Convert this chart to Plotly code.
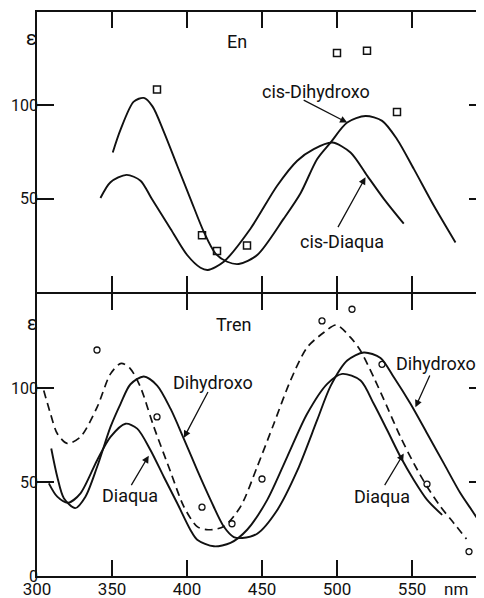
import plotly.graph_objects as go

# ---------------- data ----------------
# Top panel (En)
en_dihydroxo_nm = [350.5, 355.7, 364.5, 371.2, 377, 384.5, 393.5, 402.3, 411.2, 419, 426.8, 434.5,
                   446.8, 464.5, 475.7, 486.8, 495.7, 506.8, 519, 530.1, 540, 551.2, 564.5, 579]
en_dihydroxo_eps = [74.8, 87, 102, 104, 99.5, 86, 67.7, 50, 32.3, 20.7, 16.3, 15.1,
                    19.9, 39.4, 53, 71.3, 80.1, 90.8, 94.3, 91.7, 81.9, 66, 46.4, 26.6]

en_diaqua_nm = [342.3, 349, 359.7, 369, 376.5, 389, 400.1, 409, 413.9, 424.5, 442.3, 460.1,
                473.5, 484.5, 496.8, 509, 520.1, 531.2, 544.5]
en_diaqua_eps = [50.4, 58.9, 62.8, 59.7, 50, 34, 19.9, 13.1, 11.9, 16.3, 34, 57,
                 70.4, 76.6, 80.1, 74.8, 62.4, 50, 36.7]

en_points_nm = [380, 410, 420, 440, 500, 520, 540]
en_points_eps = [108.5, 30.5, 22, 25, 128, 129.3, 96.4]

# Bottom panel (Tren)
tren_dihydroxo_nm = [309.5, 313.5, 317.9, 325.5, 332.3, 340.1, 349, 355.7, 362.3, 371.2, 380.1, 389,
                     397.9, 406.8, 415.7, 424.5, 431.2, 436.8, 446.8, 460.1, 473.5, 486.8, 495.7,
                     506.8, 517.9, 529, 537.9, 549, 560.1, 571.2, 582.3, 591.2, 598.3]
tren_dihydroxo_eps = [67.8, 52.8, 41.4, 36.1, 42.2, 58.1, 79.3, 91.6, 102, 106.1, 101.3, 89,
                      73, 56.3, 40.5, 26.3, 20.7, 20.2, 22.5, 35, 56, 83, 101,
                      114.6, 118.9, 116, 105.7, 91.6, 75.8, 59.9, 44, 33.4, 24.6]

tren_diaqua_nm = [307.9, 313.5, 320.8, 329, 340.1, 349, 359, 366.8, 375.7, 384.5, 393.5, 402.3,
                  406.8, 417.9, 429, 440.1, 453.5, 466.8, 480.1, 493.5, 503.5, 515.7, 524.5,
                  533.5, 542.3, 551.2, 560.1, 570.1]
tren_diaqua_eps = [49.3, 42.2, 39, 44, 61.6, 74, 81, 78.4, 66.9, 52.8, 38.7, 24.5,
                   19.3, 15.8, 17.6, 24.6, 40.5, 63.4, 86.3, 102.2, 107.5, 104, 91.6,
                   77.5, 63.4, 51.1, 40.5, 32.5]

tren_dashed_nm = [304.5, 309, 313.5, 320.1, 329, 340.1, 349, 356.1, 362.3, 369, 377.9, 389,
                  397.9, 406.8, 414, 424.5, 435.7, 446.8, 457.9, 469, 480.1, 491.2, 499.5,
                  509, 515.7, 524.5, 533.5, 542.3, 551.2, 560.1, 569, 577.9, 586.3]
tren_dashed_eps = [98.7, 86.3, 75.8, 70.5, 74, 89.8, 107.5, 113.1, 110.2, 100.4, 79.3, 55.5,
                   36.9, 26.3, 24.6, 26.3, 36.9, 58.1, 81, 104, 121.6, 129.5, 133.5,
                   126.9, 119.8, 105.7, 89.8, 74, 59.9, 47.5, 36.9, 28.1, 19.7]

tren_points_nm = [340, 380, 410, 430, 450, 490, 510, 530, 560, 588]
tren_points_eps = [120.2, 84.6, 36.6, 27.8, 51.6, 135.7, 141.9, 112.6, 48.9, 13]

x_ticks = [300, 350, 400, 450, 500, 550]
x_ticktext = ["300", "350", "400", "450", "500", "550"]
y_ticks_bottom = [0, 50, 100]
y_ticks_top = [50, 100]

# ---------------- figure ----------------
FONT = "Roboto, 'DejaVu Sans', sans-serif"
BLACK = "#111111"
fig = go.Figure()

line_solid = dict(color=BLACK, width=1.9, shape="spline", smoothing=0.8)

fig.add_trace(go.Scatter(x=en_dihydroxo_nm, y=en_dihydroxo_eps, mode="lines", line=line_solid,
                         xaxis="x2", yaxis="y2", name="cis-Dihydroxo"))
fig.add_trace(go.Scatter(x=en_diaqua_nm, y=en_diaqua_eps, mode="lines", line=line_solid,
                         xaxis="x2", yaxis="y2", name="cis-Diaqua"))
fig.add_trace(go.Scatter(x=en_points_nm, y=en_points_eps, mode="markers",
                         marker=dict(symbol="square-open", size=7, color=BLACK, line=dict(width=1.5)),
                         xaxis="x2", yaxis="y2", name="En points"))

fig.add_trace(go.Scatter(x=tren_dashed_nm, y=tren_dashed_eps, mode="lines",
                         line=dict(color=BLACK, width=1.7, dash="8px,5px", shape="spline", smoothing=0.8),
                         xaxis="x", yaxis="y", name="dashed"))
fig.add_trace(go.Scatter(x=tren_dihydroxo_nm, y=tren_dihydroxo_eps, mode="lines", line=line_solid,
                         xaxis="x", yaxis="y", name="Dihydroxo"))
fig.add_trace(go.Scatter(x=tren_diaqua_nm, y=tren_diaqua_eps, mode="lines", line=line_solid,
                         xaxis="x", yaxis="y", name="Diaqua"))
fig.add_trace(go.Scatter(x=tren_points_nm, y=tren_points_eps, mode="markers",
                         marker=dict(symbol="circle-open", size=6, color=BLACK, line=dict(width=1.3)),
                         xaxis="x", yaxis="y", name="Tren points"))

# dummy traces for right-side tick axes
fig.add_trace(go.Scatter(x=[None], y=[None], xaxis="x", yaxis="y3", showlegend=False))
fig.add_trace(go.Scatter(x=[None], y=[None], xaxis="x2", yaxis="y4", showlegend=False))

axis_common = dict(showgrid=False, zeroline=False, showline=True, linecolor=BLACK, linewidth=1.8,
                   ticks="inside", tickcolor=BLACK, tickwidth=1.6)

# the page body has an 8px margin, so the figure is sized 8px smaller than the window
fig.update_layout(
    width=476, height=590,
    margin=dict(l=29, r=0, t=4, b=22),
    paper_bgcolor="white", plot_bgcolor="white",
    showlegend=False,
    font=dict(family=FONT, color=BLACK),
    xaxis=dict(domain=[0, 1], anchor="y", range=[300, 598], tickvals=x_ticks, ticktext=x_ticktext,
               ticklen=16, mirror="ticks", ticklabelstandoff=-3,
               tickfont=dict(family=FONT, size=17, color=BLACK), **axis_common),
    xaxis2=dict(domain=[0, 1], anchor="y2", range=[300, 598], matches="x", tickvals=x_ticks,
                showticklabels=False, ticklen=16, mirror="ticks", **axis_common),
    yaxis=dict(domain=[0, 0.5], anchor="x", range=[0, 150], tickvals=y_ticks_bottom, ticklen=17,
               ticklabelstandoff=-6, tickfont=dict(family=FONT, size=16, color=BLACK), **axis_common),
    yaxis2=dict(domain=[0.5032, 1], anchor="x2", range=[0, 150], tickvals=y_ticks_top, ticklen=17,
                ticklabelstandoff=-6, tickfont=dict(family=FONT, size=16, color=BLACK), **axis_common),
    yaxis3=dict(overlaying="y", side="right", anchor="x", range=[0, 150], tickvals=[50, 100],
                ticks="inside", ticklen=15, tickwidth=1.6, tickcolor=BLACK, showline=False,
                showticklabels=False, showgrid=False, zeroline=False),
    yaxis4=dict(overlaying="y2", side="right", anchor="x2", range=[0, 150], tickvals=[50, 100],
                ticks="inside", ticklen=15, tickwidth=1.6, tickcolor=BLACK, showline=False,
                showticklabels=False, showgrid=False, zeroline=False),
)

ann = []
def text(x, y, s, xref, yref, size=18, **kw):
    ann.append(dict(x=x, y=y, xref=xref, yref=yref, text=s, showarrow=False,
                    font=dict(family=FONT, size=size, color=BLACK), **kw))

def arrow(x, y, ax, ay, xref, yref):
    ann.append(dict(x=x, y=y, ax=ax, ay=ay, xref=xref, yref=yref, axref=xref, ayref=yref,
                    text="", showarrow=True, arrowhead=2, arrowsize=1.1, arrowwidth=1.3,
                    arrowcolor=BLACK))

# panel titles
text(433, 134, "En", "x2", "y2", size=18)
text(431, 133.6, "Tren", "x", "y", size=18)
# epsilon labels
text(-0.03, 0.978, "ε", "paper", "paper", size=20)
text(-0.027, 0.449, "ε", "paper", "paper", size=20)
# nm unit
text(579, 0, "nm", "x", "y", size=17, yanchor="top", yshift=-1)

# top panel labels + arrows
text(486.3, 107.4, "cis-Dihydroxo", "x2", "y2")
arrow(506.8, 90.8, 476.8, 103.2, "x2", "y2")
text(503.5, 27.1, "cis-Diaqua", "x2", "y2")
arrow(519, 61.5, 500.1, 34, "x2", "y2")

# bottom panel labels + arrows
text(417.3, 102.9, "Dihydroxo", "x", "y")
arrow(397.9, 73.5, 414.5, 98.7, "x", "y")
text(362.3, 42.6, "Diaqua", "x", "y")
arrow(374.5, 64, 362.3, 47.5, "x", "y")
text(565.7, 113, "Dihydroxo", "x", "y")
arrow(552.3, 89.8, 562.3, 107.5, "x", "y")
text(530.1, 42.1, "Diaqua", "x", "y")
arrow(544.5, 65.2, 531.2, 47.5, "x", "y")

fig.update_layout(annotations=ann)
fig.write_html("out.html")
